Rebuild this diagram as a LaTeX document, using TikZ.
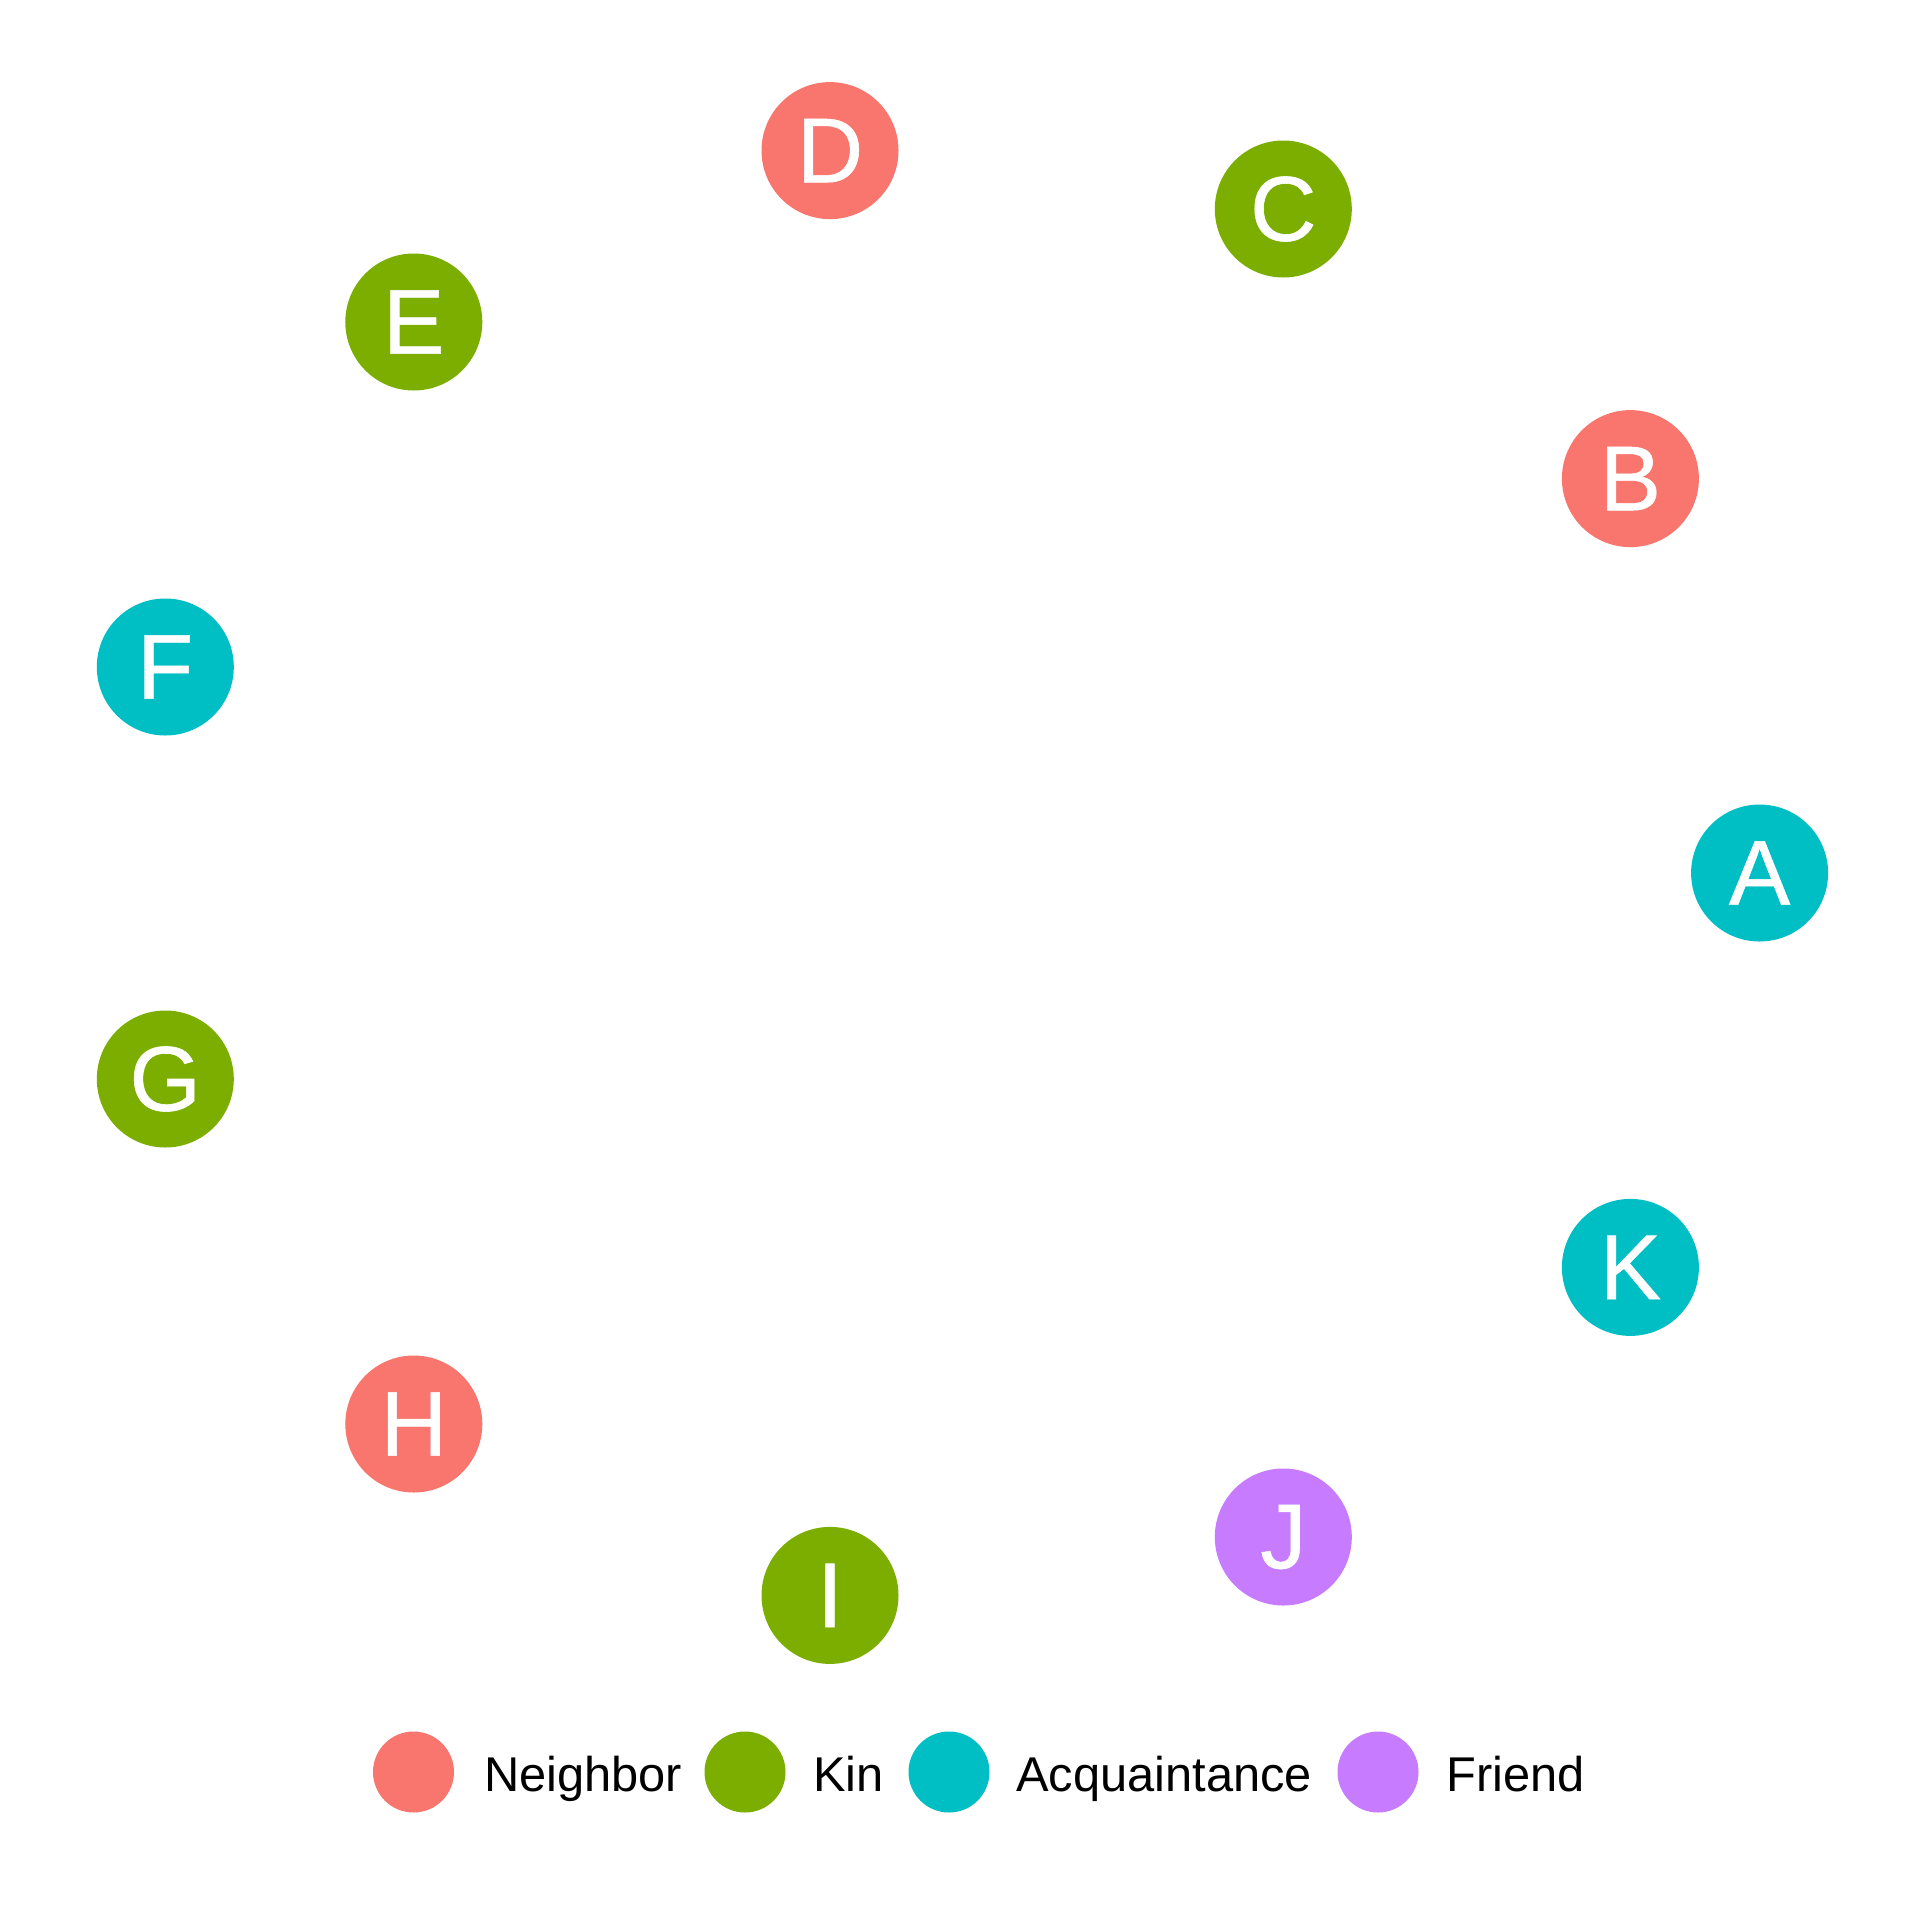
\documentclass[tikz,border=0pt]{standalone}
\usepackage{fontspec}
\setmainfont{Liberation Sans}
\newfontfamily\vertfont[FakeBold=0.6]{Liberation Sans}
\definecolor{cNeighbor}{HTML}{F8766D}
\definecolor{cKin}{HTML}{7CAE00}
\definecolor{cAcq}{HTML}{00BFC4}
\definecolor{cFriend}{HTML}{C77CFF}
\tikzset{
  vert/.style={circle, draw=none, fill=#1, minimum size=137pt, inner sep=0pt, text=white,
    font=\vertfont\fontsize{92}{100}\selectfont},
  legdot/.style={circle, draw=none, fill=#1, minimum size=81pt, inner sep=0pt},
  legtext/.style={anchor=base west, inner sep=0pt, text=black, font=\fontsize{48.8}{58}\selectfont}
}
\begin{document}
\begin{tikzpicture}[x=1pt,y=-1pt]
\fill[white] (0,0) rectangle (1920,1920);
\useasboundingbox (0,0) rectangle (1920,1920);
\node[vert=cAcq] (A) at (1759.6,873.0) {A};
\node[vert=cNeighbor] (B) at (1630.4,478.6) {B};
\node[vert=cKin] (C) at (1283.3,209.0) {C};
\node[vert=cNeighbor] (D) at (830.0,150.6) {D};
\node[vert=cKin] (E) at (413.8,322.0) {E};
\node[vert=cAcq] (F) at (165.3,667.0) {F};
\node[vert=cKin] (G) at (165.3,1079.0) {G};
\node[vert=cNeighbor] (H) at (413.8,1424.0) {H};
\node[vert=cKin] (I) at (830.0,1595.4) {I};
\node[vert=cFriend] (J) at (1283.3,1537.0) {J};
\node[vert=cAcq] (K) at (1630.4,1267.4) {K};
% legend
\node[legdot=cNeighbor] (l1) at (413.5,1772) {};
\node[legtext] (t1) at (484,1791) {Neighbor};
\node[legdot=cKin] (l2) at (745,1772) {};
\node[legtext] (t2) at (813,1791) {Kin};
\node[legdot=cAcq] (l3) at (949,1772) {};
\node[legtext] (t3) at (1016,1791) {Acquaintance};
\node[legdot=cFriend] (l4) at (1378,1772) {};
\node[legtext] (t4) at (1446,1791) {Friend};
\end{tikzpicture}
\end{document}
